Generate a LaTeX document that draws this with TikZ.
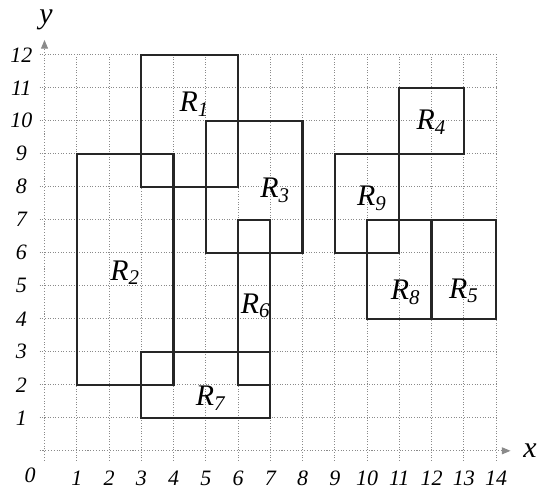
\documentclass[tikz,border=0pt]{standalone}
\usepackage{fontspec}
\newfontfamily\figfont{Liberation Serif Italic}
\usetikzlibrary{arrows.meta}
\definecolor{GridGray}{HTML}{8A8A8A}
\tikzset{
  gridline/.style={GridGray,densely dotted,line width=0.5pt},
  axisline/.style={GridGray,densely dotted,line width=0.6pt,-{Triangle[width=4pt,length=5pt]}},
  region/.style={black!85,line width=1.3pt},
  ticklabel/.style={font=\figfont\fontsize{12.5}{14}\selectfont},
  regionlabel/.style={font=\figfont\fontsize{17}{19}\selectfont}
}

\begin{document}
\begin{tikzpicture}[x=0.645cm,y=0.66cm]
  \useasboundingbox (-1.38,-1.19) rectangle (15.27,13.66);
  % grid and axes
  \foreach \i in {1,...,14} \draw[gridline] (\i,-0.3) -- (\i,12);
  \foreach \j in {1,...,12} \draw[gridline] (-0.15,\j) -- (14,\j);
  \coordinate (xend) at (14.45,0); \coordinate (yend) at (0,12.45);
  \draw[axisline] (-0.15,0) -- (xend); \draw[axisline] (0,-0.3) -- (yend);
  \foreach \i in {1,...,14} \node[ticklabel] (xl\i) at (\i,-0.83) {\i};
  \foreach \j in {1,...,12} \node[ticklabel] (yl\j) at (-0.72,\j) {\j};
  \node[ticklabel] (origin) at (-0.45,-0.74) {0};
  \node[regionlabel] (xlab) at (15.05,0) {x}; \node[regionlabel] (ylab) at (0.05,13.05) {y};
  % rectangles
  \draw[region] (3,8) rectangle (6,12); \node[regionlabel] (R1) at (4.65,10.5) {R\textsubscript{1}};
  \draw[region] (1,2) rectangle (4,9); \node[regionlabel] (R2) at (2.5,5.4) {R\textsubscript{2}};
  \draw[region] (5,6) rectangle (8,10); \node[regionlabel] (R3) at (7.15,7.9) {R\textsubscript{3}};
  \draw[region] (11,9) rectangle (13,11); \node[regionlabel] (R4) at (12.0,9.95) {R\textsubscript{4}};
  \draw[region] (12,4) rectangle (14,7); \node[regionlabel] (R5) at (13.0,4.85) {R\textsubscript{5}};
  \draw[region] (6,2) rectangle (7,7); \node[regionlabel] (R6) at (6.55,4.4) {R\textsubscript{6}};
  \draw[region] (3,1) rectangle (7,3); \node[regionlabel] (R7) at (5.15,1.6) {R\textsubscript{7}};
  \draw[region] (10,4) rectangle (12,7); \node[regionlabel] (R8) at (11.2,4.8) {R\textsubscript{8}};
  \draw[region] (9,6) rectangle (11,9); \node[regionlabel] (R9) at (10.15,7.65) {R\textsubscript{9}};
\end{tikzpicture}
\end{document}
